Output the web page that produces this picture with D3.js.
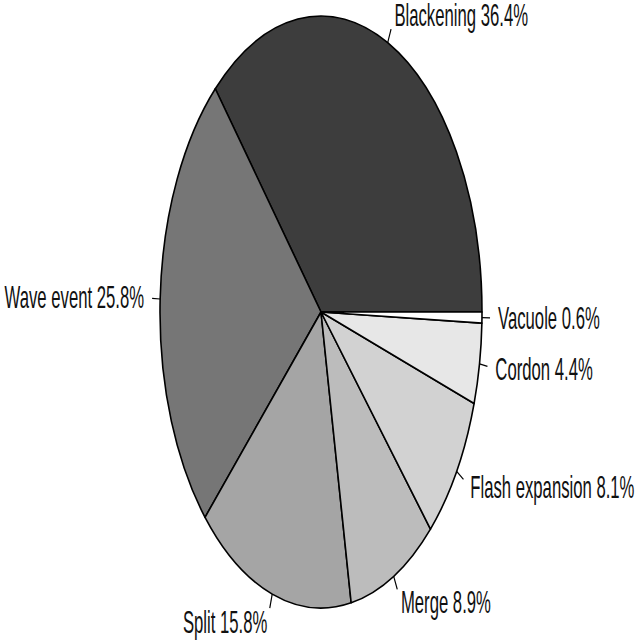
<!DOCTYPE html>
<html>
<head>
<meta charset="utf-8">
<script src="https://cdn.jsdelivr.net/npm/d3@7"></script>
<style>
  html, body { margin: 0; padding: 0; background: #fff; }
  svg { display: block; }
  .lbl { font-family: "Liberation Sans", Arial, sans-serif; font-size: 16.7px; fill: #111; }
</style>
</head>
<body>
<div id="chart"></div>
<script>
/* Pie chart, drawn round and then stretched vertically like the reference */
const categories = ['Blackening', 'Wave event', 'Split', 'Merge', 'Flash expansion', 'Cordon', 'Vacuole'];
const shares     = [36.4, 25.8, 15.8, 8.9, 8.1, 4.4, 0.6];
const fills      = ['#3d3d3d', '#767676', '#a5a5a5', '#bcbcbc', '#d2d2d2', '#e7e7e7', '#ffffff'];

const W = 640, H = 640;
const R = 161;             // radius before stretching
const SY = 296 / R;        // vertical stretch of the picture
const CX = 321, CY = 312 / SY;

const svg = d3.select('#chart').append('svg').attr('width', W).attr('height', H);
const g = svg.append('g').attr('transform', `scale(1, ${SY})`);

// counter-clockwise from 3 o'clock, as in R's pie()
const total = d3.sum(shares);
const ang = d3.scaleLinear().domain([0, total]).range([0, 2 * Math.PI]);
let acc = 0;
const slices = shares.map((v, i) => {
  const a0 = ang(acc); acc += v;
  return { name: categories[i], value: v, a0, a1: ang(acc), fill: fills[i] };
});

function pt(a, r) { return [CX + r * Math.cos(a), CY - r * Math.sin(a)]; }

slices.forEach(s => {
  const p0 = pt(s.a0, R), p1 = pt(s.a1, R);
  const large = (s.a1 - s.a0) > Math.PI ? 1 : 0;
  g.append('path')
    .attr('d', `M${CX},${CY}L${p0[0]},${p0[1]}A${R},${R} 0 ${large} 0 ${p1[0]},${p1[1]}Z`)
    .attr('fill', s.fill)
    .attr('stroke', '#000')
    .attr('stroke-width', 1.6)
    .attr('stroke-linejoin', 'round')
    .attr('vector-effect', 'non-scaling-stroke');
});

slices.forEach(s => {
  const m = (s.a0 + s.a1) / 2;
  const a = pt(m, R), b = pt(m, R * 1.05), t = pt(m, R * 1.1);
  g.append('line')
    .attr('x1', a[0]).attr('y1', a[1]).attr('x2', b[0]).attr('y2', b[1])
    .attr('stroke', '#000').attr('stroke-width', 1.2)
    .attr('vector-effect', 'non-scaling-stroke');
  g.append('text')
    .attr('class', 'lbl')
    .attr('x', t[0]).attr('y', t[1])
    .attr('dy', '0.35em')
    .attr('text-anchor', Math.cos(m) < 0 ? 'end' : 'start')
    .text(`${s.name} ${s.value.toFixed(1)}%`);
});
</script>
</body>
</html>
